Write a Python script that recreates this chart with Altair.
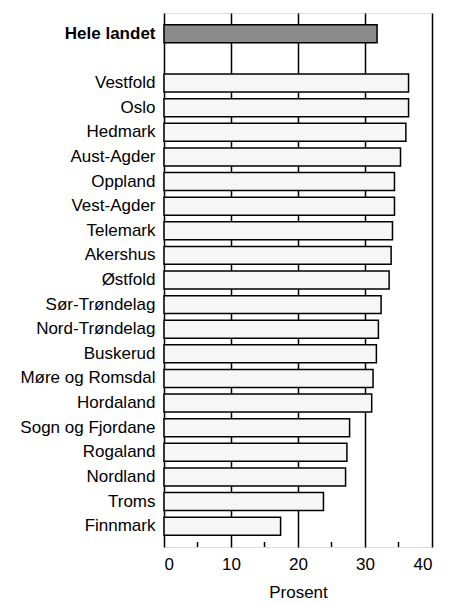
import altair as alt
import pandas as pd

regions = ["Hele landet", "Vestfold", "Oslo", "Hedmark", "Aust-Agder", "Oppland",
           "Vest-Agder", "Telemark", "Akershus", "Østfold", "Sør-Trøndelag",
           "Nord-Trøndelag", "Buskerud", "Møre og Romsdal", "Hordaland",
           "Sogn og Fjordane", "Rogaland", "Nordland", "Troms", "Finnmark"]
values = [31.8, 36.5, 36.5, 36.1, 35.3, 34.4, 34.4, 34.1, 33.9, 33.6, 32.4,
          32.0, 31.7, 31.2, 31.0, 27.7, 27.3, 27.1, 23.8, 17.4]
x_ticks = [0, 10, 20, 30, 40]
minor_ticks = [5, 15, 25, 35]

domain_order = [regions[0], " "] + regions[1:]

df = pd.DataFrame({"region": regions, "value": values})
ticks_df = pd.DataFrame({"v": minor_ticks})

FONT = "Liberation Sans, Arial, Helvetica"
FS = 17

W, H = 268, 534

xscale = alt.Scale(domain=[0, 40], nice=False, zero=True)

bars = alt.Chart(df).mark_bar(stroke="black", strokeWidth=1.5).encode(
    x=alt.X("value:Q", scale=xscale,
            axis=alt.Axis(values=x_ticks, title="Prosent", grid=True,
                          gridColor="black", gridWidth=1.5, gridOpacity=1,
                          ticks=False, domain=False, labelFont=FONT,
                          labelFontSize=FS, labelColor="black", labelPadding=9,
                          titleFont=FONT, titleFontSize=FS, titleFontWeight="normal",
                          titleColor="black", titlePadding=12)),
    y=alt.Y("region:N", sort=domain_order,
            scale=alt.Scale(domain=domain_order, paddingInner=0.27, paddingOuter=0.48),
            axis=alt.Axis(title=None, ticks=False, domain=False, labelFont=FONT,
                          labelFontSize=FS, labelColor="black", labelPadding=9,
                          labelLimit=300,
                          labelFontWeight=alt.condition("datum.value == 'Hele landet'",
                                                        alt.value("bold"), alt.value("normal")))),
    fill=alt.condition("datum.region == 'Hele landet'", alt.value("#8a8a8a"), alt.value("#f6f6f6")),
)

minor = alt.Chart(ticks_df).mark_rule(color="black", strokeWidth=1.5).encode(
    x=alt.X("v:Q", scale=xscale),
    y=alt.value(H),
    y2=alt.value(H - 5),
)

chart = alt.layer(bars, minor).properties(
    width=W, height=H,
    autosize=alt.AutoSizeParams(type="none"),
    padding={"left": 156, "top": 5, "right": 12, "bottom": 57},
).configure_view(stroke="black", strokeWidth=1.5).configure(background="white")

chart.save("out.html", embed_options={"renderer": "svg", "actions": False})
